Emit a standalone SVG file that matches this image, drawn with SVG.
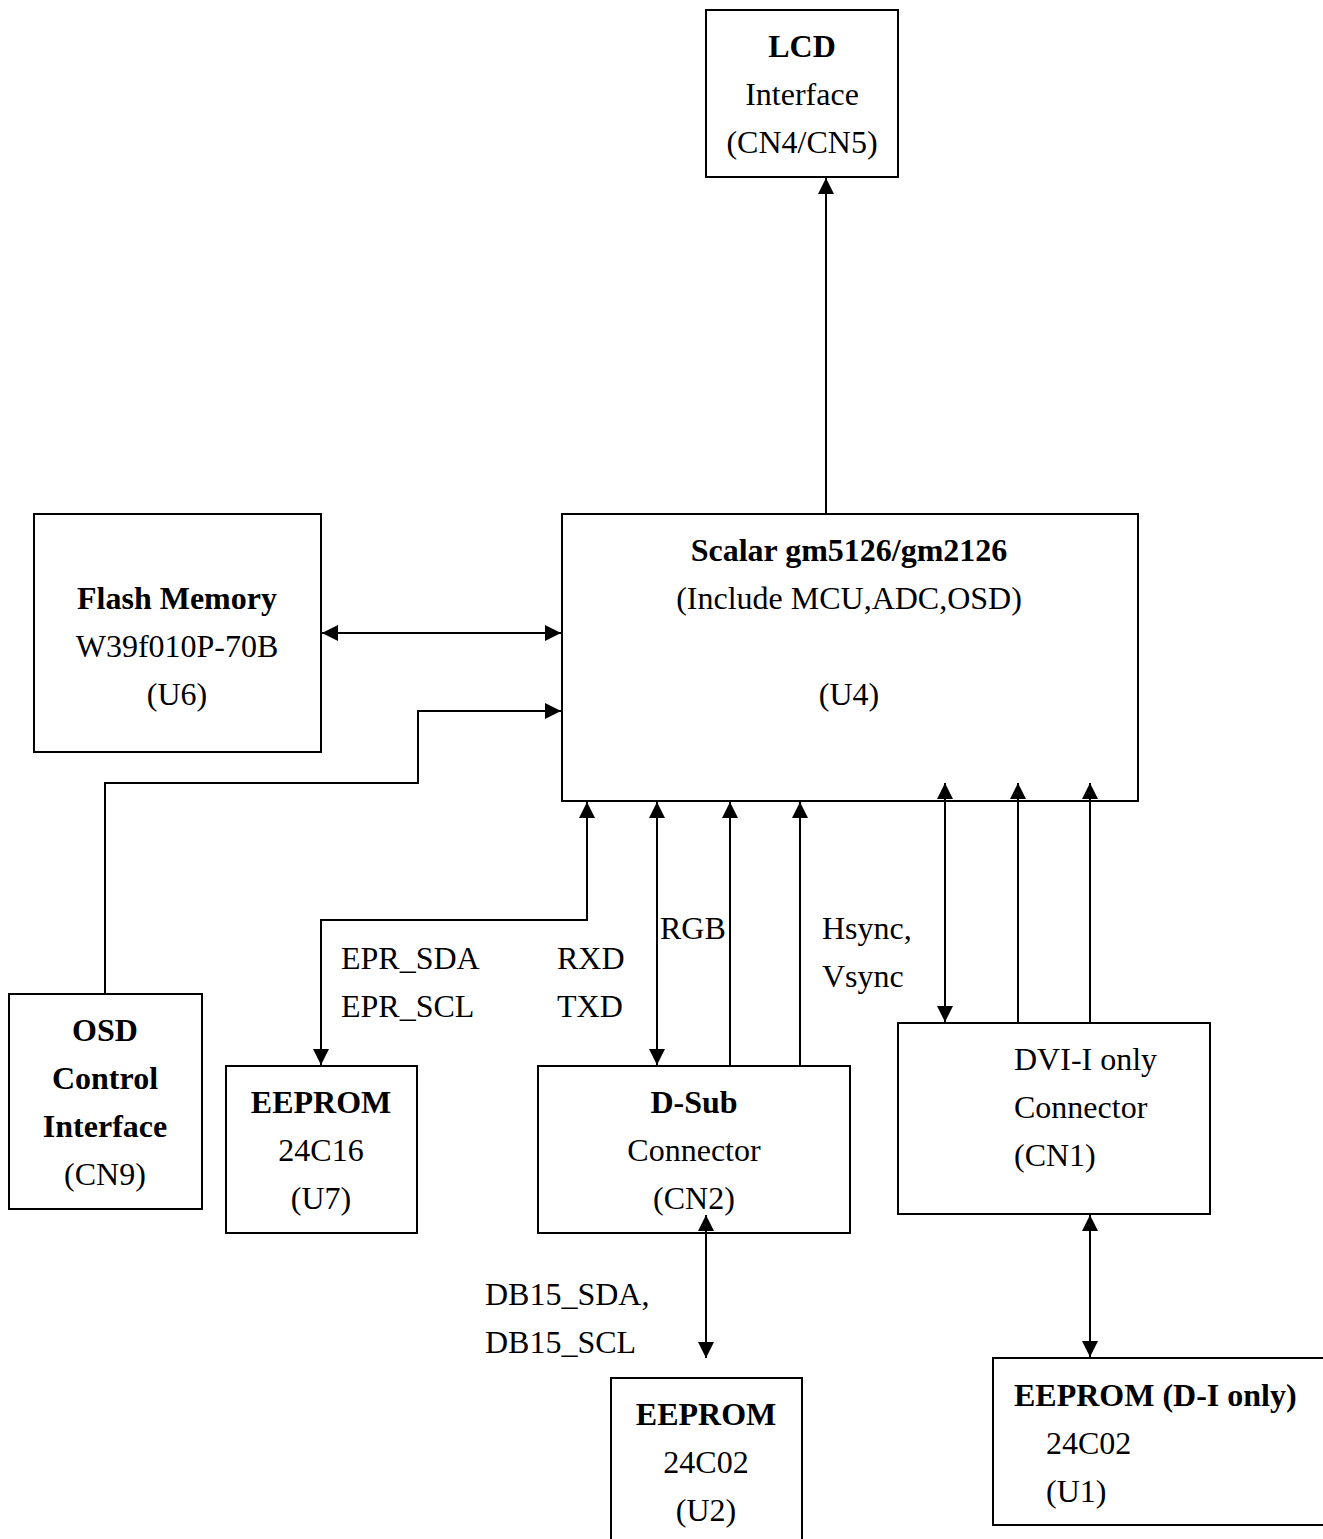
<svg xmlns="http://www.w3.org/2000/svg" width="1323" height="1539" viewBox="0 0 1323 1539">
<defs>
<style>
.box{fill:#fff;stroke:#000;stroke-width:2}
.ln{fill:none;stroke:#000;stroke-width:2}
text{font-family:"Liberation Serif","Times New Roman",serif;font-size:32px;fill:#000}
.b{font-weight:bold}
.c{text-anchor:middle}
</style>
<marker id="ae" markerUnits="userSpaceOnUse" markerWidth="16" markerHeight="16" viewBox="0 0 16 16" refX="16" refY="8" orient="auto">
<path d="M0,0 L16,8 L0,16 Z" fill="#000"/>
</marker>
<marker id="as" markerUnits="userSpaceOnUse" markerWidth="16" markerHeight="16" viewBox="0 0 16 16" refX="0" refY="8" orient="auto">
<path d="M16,0 L0,8 L16,16 Z" fill="#000"/>
</marker>
</defs>
<rect width="1323" height="1539" fill="#fff"/>
<g id="lcd">
<rect class="box" x="706" y="10" width="192" height="167"/>
<text class="c b" x="802" y="57">LCD</text>
<text class="c" x="802" y="105">Interface</text>
<text class="c" x="802" y="153">(CN4/CN5)</text>
</g>
<g id="scalar">
<rect class="box" x="562" y="514" width="576" height="287"/>
<text class="c b" x="849" y="561">Scalar gm5126/gm2126</text>
<text class="c" x="849" y="609">(Include MCU,ADC,OSD)</text>
<text class="c" x="849" y="705">(U4)</text>
</g>
<g id="flash">
<rect class="box" x="34" y="514" width="287" height="238"/>
<text class="c b" x="177" y="609">Flash Memory</text>
<text class="c" x="177" y="657">W39f010P-70B</text>
<text class="c" x="177" y="705">(U6)</text>
</g>
<g id="osd">
<rect class="box" x="9" y="994" width="193" height="215"/>
<text class="c b" x="105" y="1041">OSD</text>
<text class="c b" x="105" y="1089">Control</text>
<text class="c b" x="105" y="1137">Interface</text>
<text class="c" x="105" y="1185">(CN9)</text>
</g>
<g id="eeprom-u7">
<rect class="box" x="226" y="1066" width="191" height="167"/>
<text class="c b" x="321" y="1113">EEPROM</text>
<text class="c" x="321" y="1161">24C16</text>
<text class="c" x="321" y="1209">(U7)</text>
</g>
<g id="dsub">
<rect class="box" x="538" y="1066" width="312" height="167"/>
<text class="c b" x="694" y="1113">D-Sub</text>
<text class="c" x="694" y="1161">Connector</text>
<text class="c" x="694" y="1209">(CN2)</text>
</g>
<g id="dvi">
<rect class="box" x="898" y="1023" width="312" height="191"/>
<text x="1014" y="1070">DVI-I only</text>
<text x="1014" y="1118">Connector</text>
<text x="1014" y="1166">(CN1)</text>
</g>
<g id="eeprom-u1">
<rect class="box" x="993" y="1358" width="345" height="167"/>
<text class="b" x="1014" y="1406">EEPROM (D-I only)</text>
<text x="1046" y="1454">24C02</text>
<text x="1046" y="1502">(U1)</text>
</g>
<g id="eeprom-u2">
<rect class="box" x="611" y="1378" width="191" height="175"/>
<text class="c b" x="706" y="1425">EEPROM</text>
<text class="c" x="706" y="1473">24C02</text>
<text class="c" x="706" y="1521">(U2)</text>
</g>
<g id="connectors">
<line class="ln" x1="826" y1="514" x2="826" y2="178" marker-end="url(#ae)"/>
<line class="ln" x1="322" y1="633" x2="561" y2="633" marker-start="url(#as)" marker-end="url(#ae)"/>
<polyline class="ln" points="105,994 105,783 418,783 418,711 561,711" marker-end="url(#ae)"/>
<polyline class="ln" points="321,1065 321,920 587,920 587,802" marker-start="url(#as)" marker-end="url(#ae)"/>
<line class="ln" x1="657" y1="802" x2="657" y2="1065" marker-start="url(#as)" marker-end="url(#ae)"/>
<line class="ln" x1="730" y1="1066" x2="730" y2="802" marker-end="url(#ae)"/>
<line class="ln" x1="800" y1="1066" x2="800" y2="802" marker-end="url(#ae)"/>
<line class="ln" x1="945" y1="783" x2="945" y2="1022" marker-start="url(#as)" marker-end="url(#ae)"/>
<line class="ln" x1="1018" y1="1023" x2="1018" y2="783" marker-end="url(#ae)"/>
<line class="ln" x1="1090" y1="1023" x2="1090" y2="783" marker-end="url(#ae)"/>
<line class="ln" x1="1090" y1="1215" x2="1090" y2="1357" marker-start="url(#as)" marker-end="url(#ae)"/>
<line class="ln" x1="706" y1="1215" x2="706" y2="1358" marker-start="url(#as)" marker-end="url(#ae)"/>
<text x="341" y="969">EPR_SDA</text>
<text x="341" y="1017">EPR_SCL</text>
<text x="557" y="969">RXD</text>
<text x="557" y="1017">TXD</text>
<text x="660" y="939">RGB</text>
<text x="822" y="939">Hsync,</text>
<text x="822" y="987">Vsync</text>
<text x="485" y="1305">DB15_SDA,</text>
<text x="485" y="1353">DB15_SCL</text>
</g>
</svg>
